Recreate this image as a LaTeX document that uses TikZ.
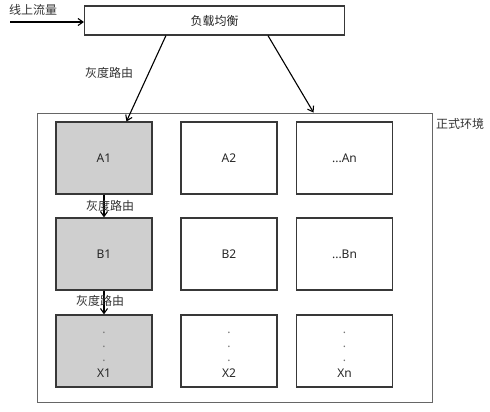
\documentclass[tikz,border=0pt]{standalone}
\usepackage{fontspec}
\setmainfont{Noto Sans}
\newfontfamily\cjk{Noto Sans CJK SC}
\usetikzlibrary{arrows.meta,calc}
\begin{document}
\begin{tikzpicture}[x=1pt,y=-1pt,
  box/.style={draw=black!78,line width=1.1pt,minimum width=96pt,minimum height=72pt,inner sep=0pt,font=\fontsize{12}{13}\selectfont,text=black!85},
  gbox/.style={box,fill=black!19},
  lab/.style={font=\cjk\fontsize{12}{13}\selectfont,text=black!80,inner sep=0pt},
  arr/.style={line width=1.1pt,-{Straight Barb[length=5pt,width=7pt]}},
  xtext/.style={align=center,font=\fontsize{12}{14}\selectfont}
]
\useasboundingbox (0,0) rectangle (490,412);
% environment frame
\node[draw=black!60,line width=0.9pt,minimum width=395pt,minimum height=289pt,inner sep=0pt] (env) at (234.5,257.5) {};
\node[lab,anchor=west] (envlab) at (436,124) {正式环境};
% load balancer
\node[draw=black!78,line width=1.1pt,minimum width=260pt,minimum height=29pt,inner sep=0pt,font=\cjk\fontsize{12}{13}\selectfont,text=black!85] (lb) at (214.5,20.5) {负载均衡};
\node[lab,anchor=west] (traffic) at (9,10) {线上流量};
\coordinate (tin) at (10,22);
\draw[arr] (tin) -- (lb.west |- tin);
% row A
\node[gbox] (a1) at (104,158) {A1};
\node[box] (a2) at (229,158) {A2};
\node[box] (an) at (344.5,158) {...An};
% row B
\node[gbox] (b1) at (104,254) {B1};
\node[box] (b2) at (229,254) {B2};
\node[box] (bn) at (344.5,254) {...Bn};
% row X
\node[gbox,xtext] (x1) at (104,351) {\rule{0pt}{8.5pt}\textcolor{black!55}{.}\\[0pt]\textcolor{black!55}{.}\\[0pt]\textcolor{black!55}{.}\\[2.5pt]X1};
\node[box,xtext] (x2) at (229,351) {\rule{0pt}{8.5pt}\textcolor{black!55}{.}\\[0pt]\textcolor{black!55}{.}\\[0pt]\textcolor{black!55}{.}\\[2.5pt]X2};
\node[box,xtext] (xn) at (344.5,351) {\rule{0pt}{8.5pt}\textcolor{black!55}{.}\\[0pt]\textcolor{black!55}{.}\\[0pt]\textcolor{black!55}{.}\\[2.5pt]Xn};
% arrows
\coordinate (s1) at ($(lb.south west)+(82,0)$);
\coordinate (e1) at ($(a1.north west)+(71,0)$);
\draw[arr] (s1) -- (e1);
\coordinate (s2) at ($(lb.south west)+(184,0)$);
\coordinate (e2) at ($(env.north west)+(277,0)$);
\draw[arr] (s2) -- (e2);
\node[lab] (g1) at (109,73) {灰度路由};
\draw[arr] (a1.south) -- (b1.north);
\node[lab] (g2) at (110,206) {灰度路由};
\draw[arr] (b1.south) -- (x1.north);
\node[lab] (g3) at (100,301) {灰度路由};
\end{tikzpicture}
\end{document}
